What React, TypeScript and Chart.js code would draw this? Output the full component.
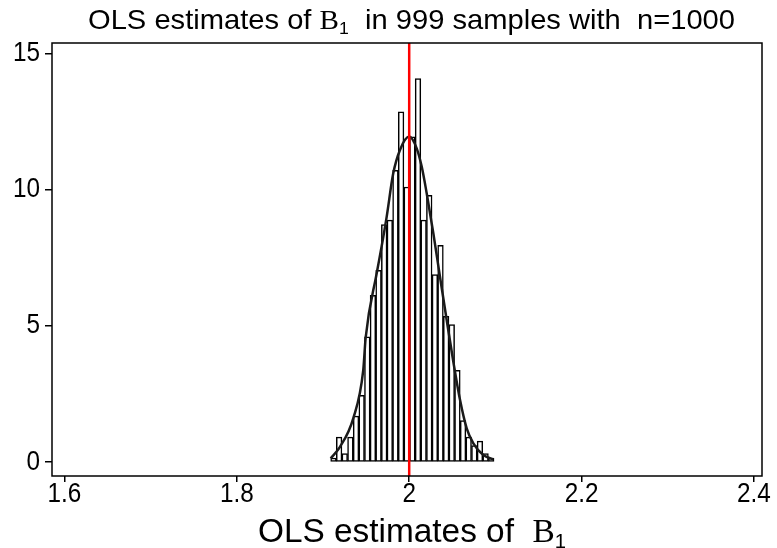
import React, { useEffect, useRef } from "react";
import { Chart, registerables } from "chart.js";

Chart.register(...registerables);

// Histogram bin centres (bin width ≈ 0.00654)
const BIN_CENTERS = [
  1.91217, 1.9187, 1.92524, 1.93177, 1.93831, 1.94484, 1.95138, 1.95791, 1.96445, 1.97098,
  1.97752, 1.98405, 1.99059, 1.99712, 2.00366, 2.01019, 2.01673, 2.02326, 2.0298, 2.03633,
  2.04287, 2.0494, 2.05594, 2.06247, 2.06901, 2.07554, 2.08208, 2.08861, 2.09515,
];
// Density heights of the bins
const DENSITY = [
  0.15, 0.92, 0.31, 0.92, 1.69, 2.45, 4.6, 6.13, 7.05, 8.73,
  8.89, 10.72, 12.87, 10.11, 11.95, 14.09, 8.89, 9.8, 6.89, 7.97,
  5.36, 5.05, 3.37, 1.53, 0.92, 0.61, 0.77, 0.31, 0.15,
];
// Overlaid normal density curve
const CURVE_X = [
  1.9089, 1.9197, 1.9351, 1.9467, 1.9495, 1.9623, 1.968, 1.9739, 1.9815, 1.9893, 2.0,
  2.0087, 2.0145, 2.0203, 2.028, 2.0357, 2.0435, 2.0512, 2.059, 2.0667, 2.0744, 2.086, 2.0976,
];
const CURVE_Y = [
  0.14, 0.56, 1.61, 3.38, 4.57, 6.94, 7.92, 9.02, 10.61, 11.47, 11.96,
  11.53, 10.86, 9.88, 8.41, 6.81, 5.22, 3.69, 2.28, 1.24, 0.69, 0.26, 0.1,
];
const TRUE_VALUE = 2.0;
const X_TICKS = [1.6, 1.8, 2.0, 2.2, 2.4];
const X_TICK_LABELS = ["1.6", "1.8", "2", "2.2", "2.4"];
const Y_TICKS = [0, 5, 10, 15];
const Y_TICK_LABELS = ["0", "5", "10", "15"];
const X_MIN = 1.5856;
const X_MAX = 2.4093;
const Y_MIN = -0.51;
const Y_MAX = 15.4;

const SANS = '"Liberation Sans", Arial, Helvetica, sans-serif';
const SERIF = '"Liberation Serif", "Times New Roman", serif';

type Part = { text: string; serif?: boolean; sub?: boolean };
const TITLE_PARTS: Part[] = [
  { text: "OLS estimates of " },
  { text: "B", serif: true },
  { text: "1", sub: true },
  { text: "  in 999 samples with  n=1000" },
];
const XTITLE_PARTS: Part[] = [
  { text: "OLS estimates of  " },
  { text: "B", serif: true },
  { text: "1", sub: true },
];

function partFont(p: Part, size: number) {
  if (p.sub) return `${Math.round(size * 0.6)}px ${SANS}`;
  return `${size}px ${p.serif ? SERIF : SANS}`;
}

function drawRich(ctx: CanvasRenderingContext2D, parts: Part[], size: number, x0: number, x1: number, baseline: number) {
  ctx.save();
  ctx.textAlign = "left";
  ctx.textBaseline = "alphabetic";
  ctx.fillStyle = "#000";
  let total = 0;
  const widths = parts.map((p) => {
    ctx.font = partFont(p, size);
    const w = ctx.measureText(p.text).width;
    total += w;
    return w;
  });
  const sx = (x1 - x0) / total;
  ctx.translate(x0, baseline);
  ctx.scale(sx, 1);
  let x = 0;
  parts.forEach((p, i) => {
    ctx.font = partFont(p, size);
    ctx.fillText(p.text, x, p.sub ? size * 0.18 : 0);
    x += widths[i];
  });
  ctx.restore();
}

function drawLabel(ctx: CanvasRenderingContext2D, text: string, x: number, y: number, align: "center" | "right", size: number, sx: number) {
  ctx.save();
  ctx.font = `${size}px ${SANS}`;
  ctx.fillStyle = "#000";
  ctx.textBaseline = "middle";
  ctx.textAlign = align;
  ctx.translate(x, y);
  ctx.scale(sx, 1);
  ctx.fillText(text, 0, 0);
  ctx.restore();
}

const textPlugin = {
  id: "textPlugin",
  afterDraw(chart: any) {
    const ctx = chart.ctx as CanvasRenderingContext2D;
    const a = chart.chartArea;
    ctx.save();
    ctx.strokeStyle = "#000";
    ctx.lineWidth = 1.5;
    ctx.strokeRect(a.left, a.top, a.right - a.left, a.bottom - a.top);
    ctx.restore();
    const xs = chart.scales.x;
    const ys = chart.scales.y;
    X_TICKS.forEach((v, i) => drawLabel(ctx, X_TICK_LABELS[i], xs.getPixelForValue(v), a.bottom + 19, "center", 27, 0.9));
    Y_TICKS.forEach((v, i) => drawLabel(ctx, Y_TICK_LABELS[i], a.left - 12, ys.getPixelForValue(v), "right", 27, 0.9));
    drawRich(ctx, TITLE_PARTS, 28, 88, 735, 29);
    drawRich(ctx, XTITLE_PARTS, 33, 258, 566, 542);
  },
};

export default function App() {
  const ref = useRef<HTMLCanvasElement | null>(null);
  useEffect(() => {
    const canvas = ref.current;
    if (!canvas) return;
    const chart = new Chart(canvas, {
      type: "bar",
      data: {
        datasets: [
          {
            type: "line",
            data: [
              { x: TRUE_VALUE, y: Y_MIN },
              { x: TRUE_VALUE, y: Y_MAX },
            ],
            borderColor: "#ff0000",
            borderWidth: 2.5,
            pointRadius: 0,
            order: 1,
          } as any,
          {
            type: "line",
            data: CURVE_X.map((x, i) => ({ x, y: CURVE_Y[i] })),
            borderColor: "#1a1a1a",
            borderWidth: 2.5,
            pointRadius: 0,
            cubicInterpolationMode: "monotone",
            order: 2,
          } as any,
          {
            type: "bar",
            data: BIN_CENTERS.map((x, i) => ({ x, y: DENSITY[i] })),
            backgroundColor: "#ffffff",
            borderColor: "#000000",
            borderWidth: 1.5,
            borderSkipped: false,
            barPercentage: 1,
            categoryPercentage: 1,
            order: 3,
          } as any,
        ],
      },
      options: {
        responsive: false,
        animation: false,
        layout: { padding: { top: 43, right: 15, left: 0, bottom: 0 } },
        plugins: { legend: { display: false }, tooltip: { enabled: false }, title: { display: false } },
        scales: {
          x: {
            type: "linear",
            offset: false,
            min: X_MIN,
            max: X_MAX,
            afterBuildTicks: (s: any) => {
              s.ticks = X_TICKS.map((v) => ({ value: v }));
            },
            afterFit: (s: any) => {
              s.height = 72;
            },
            ticks: { display: false, autoSkip: false },
            grid: { display: true, offset: false, drawOnChartArea: false, drawTicks: true, tickLength: 6, color: "#000", lineWidth: 1.5 },
            border: { display: false },
          },
          y: {
            type: "linear",
            min: Y_MIN,
            max: Y_MAX,
            afterBuildTicks: (s: any) => {
              s.ticks = Y_TICKS.map((v) => ({ value: v }));
            },
            afterFit: (s: any) => {
              s.width = 52;
            },
            ticks: { display: false, autoSkip: false },
            grid: { display: true, drawOnChartArea: false, drawTicks: true, tickLength: 7, color: "#000", lineWidth: 1.5 },
            border: { display: false },
          },
        },
      } as any,
      plugins: [textPlugin],
    });
    return () => chart.destroy();
  }, []);
  return (
    <div style={{ position: "fixed", left: 0, top: 0, width: 777, height: 548, background: "#fff" }}>
      <canvas ref={ref} width={777} height={548} />
    </div>
  );
}
